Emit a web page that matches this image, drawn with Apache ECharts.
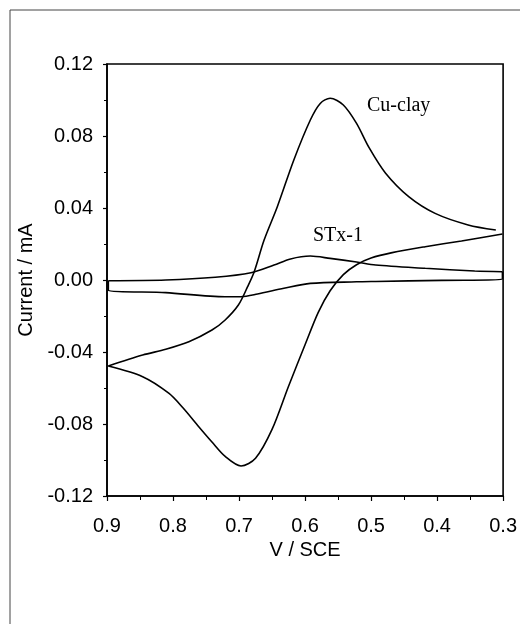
<!DOCTYPE html>
<html>
<head>
<meta charset="utf-8">
<script src="https://cdn.jsdelivr.net/npm/echarts@6/dist/echarts.min.js"></script>
<style>
  html, body { margin: 0; padding: 0; background: #fff; }
  #chart { width: 520px; height: 624px; }
</style>
</head>
<body>
<div id="chart"></div>
<script>
// Cu-clay, anodic sweep (0.9 -> 0.3)
const cuAnodicV = [0.898, 0.846, 0.811, 0.776, 0.741, 0.721, 0.701, 0.687, 0.677, 0.662, 0.642, 0.617, 0.592, 0.577, 0.562, 0.542, 0.522, 0.503, 0.478, 0.443, 0.403, 0.353, 0.311]
const cuAnodicI = [-0.0478, -0.0417, -0.0385, -0.0343, -0.0278, -0.0222, -0.0139, -0.0037, 0.0046, 0.0222, 0.0407, 0.0667, 0.0889, 0.0981, 0.1010, 0.0972, 0.0870, 0.0735, 0.0593, 0.0463, 0.0370, 0.0306, 0.0278]
// Cu-clay, cathodic sweep (0.3 -> 0.9)
const cuCathodicV = [0.301, 0.363, 0.418, 0.468, 0.500, 0.522, 0.542, 0.562, 0.580, 0.600, 0.625, 0.650, 0.675, 0.697, 0.721, 0.741, 0.761, 0.785, 0.806, 0.846, 0.898]
const cuCathodicI = [0.0256, 0.0217, 0.0185, 0.0152, 0.0122, 0.0085, 0.0030, -0.0060, -0.0180, -0.0360, -0.0590, -0.0830, -0.0990, -0.1033, -0.0980, -0.0900, -0.0815, -0.0710, -0.0630, -0.0537, -0.0478]
// STx-1, anodic sweep
const stxAnodicV = [0.898, 0.811, 0.736, 0.682, 0.647, 0.622, 0.592, 0.562, 0.522, 0.493, 0.418, 0.343, 0.301]
const stxAnodicI = [-0.0004, 0.0000, 0.0015, 0.0040, 0.0083, 0.0117, 0.0133, 0.0120, 0.0100, 0.0083, 0.0065, 0.0050, 0.0046]
// STx-1, cathodic sweep
const stxCathodicV = [0.301, 0.301, 0.393, 0.493, 0.522, 0.592, 0.632, 0.672, 0.697, 0.721, 0.811, 0.898, 0.898]
const stxCathodicI = [0.0046, 0.0004, -0.0002, -0.0008, -0.0010, -0.0019, -0.0046, -0.0078, -0.0093, -0.0093, -0.0070, -0.0055, -0.0004]

const xTicks = [0.9, 0.8, 0.7, 0.6, 0.5, 0.4, 0.3]
const yTicks = [-0.12, -0.08, -0.04, 0.00, 0.04, 0.08, 0.12]

const pairs = (xs, ys) => xs.map((x, i) => [x, ys[i]])

const lineSeries = (xs, ys) => ({
  type: 'line',
  data: pairs(xs, ys),
  smooth: 0.3,
  showSymbol: false,
  lineStyle: { color: '#000', width: 1.6 },
  silent: true
})

var myChart = echarts.init(document.getElementById('chart'), null, { renderer: 'canvas' })

const option = {
  backgroundColor: '#fff',
  animation: false,
  grid: {
    left: 107, right: 11, top: 64, bottom: 128,
    show: true, borderColor: '#000', borderWidth: 1.6, backgroundColor: 'transparent'
  },
  xAxis: {
    type: 'value',
    inverse: true,
    min: 0.3, max: 0.9, interval: 0.1,
    name: 'V / SCE',
    nameLocation: 'middle',
    nameGap: 43,
    nameTextStyle: { fontFamily: 'Liberation Sans', fontSize: 20, color: '#000' },
    axisLine: { onZero: false, lineStyle: { color: '#000', width: 1.6 } },
    axisTick: { show: true, length: 5, lineStyle: { color: '#000', width: 1.2 } },
    minorTick: { show: true, splitNumber: 2, length: 4, lineStyle: { color: '#000', width: 1 } },
    splitLine: { show: false },
    axisLabel: {
      margin: 20, fontFamily: 'Liberation Sans', fontSize: 20, color: '#000',
      formatter: v => v.toFixed(1)
    }
  },
  yAxis: {
    type: 'value',
    min: -0.12, max: 0.12, interval: 0.04,
    name: 'Current / mA',
    nameLocation: 'middle',
    nameGap: 66,
    nameTextStyle: { fontFamily: 'Liberation Sans', fontSize: 20, color: '#000' },
    axisLine: { onZero: false, lineStyle: { color: '#000', width: 1.6 } },
    axisTick: { show: true, length: 4, lineStyle: { color: '#000', width: 1.2 } },
    minorTick: { show: true, splitNumber: 2, length: 3, lineStyle: { color: '#000', width: 1 } },
    splitLine: { show: false },
    axisLabel: {
      margin: 14, fontFamily: 'Liberation Sans', fontSize: 20, color: '#000',
      formatter: v => v.toFixed(2)
    }
  },
  graphic: [
    {
      type: 'polyline',
      shape: { points: [[10, 624], [10, 10], [520, 10]] },
      style: { stroke: '#444', lineWidth: 1, fill: null }
    },
    {
      type: 'text', left: 367, top: 96,
      style: { text: 'Cu-clay', font: '20px "Liberation Serif"', fill: '#000' }
    },
    {
      type: 'text', left: 313, top: 226,
      style: { text: 'STx-1', font: '20px "Liberation Serif"', fill: '#000' }
    }
  ],
  series: [
    lineSeries(cuAnodicV, cuAnodicI),
    lineSeries(cuCathodicV, cuCathodicI),
    lineSeries(stxAnodicV, stxAnodicI),
    lineSeries(stxCathodicV, stxCathodicI)
  ]
}
myChart.setOption(option)
</script>
</body>
</html>
